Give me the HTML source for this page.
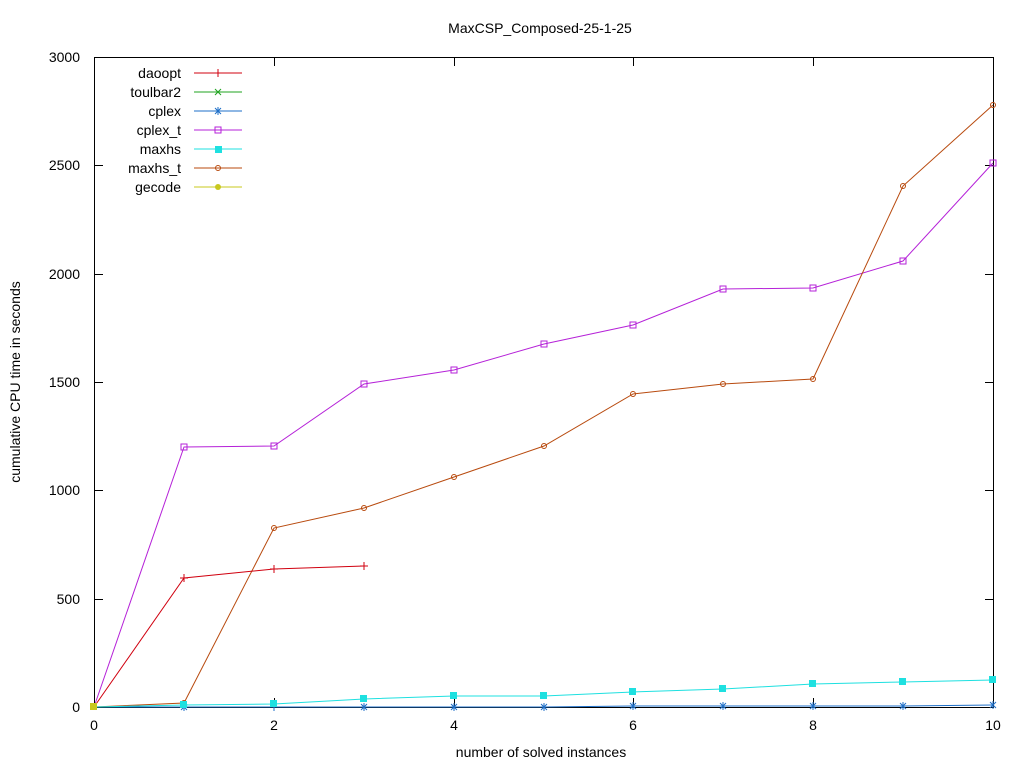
<!DOCTYPE html>
<html><head><style>body{margin:0;background:#fff}svg{display:block}text{font-family:"Liberation Sans",sans-serif;font-size:14px;fill:#000}</style></head>
<body>
<svg width="1024" height="768" xmlns="http://www.w3.org/2000/svg">
<rect width="1024" height="768" fill="#fff"/>
<text x="540" y="33" text-anchor="middle">MaxCSP_Composed-25-1-25</text>
<g stroke="#000" stroke-width="1">
<rect x="94.5" y="57.5" width="899" height="650" fill="none"/>
<path d="M94 707.5h9M994 707.5h-9M94 599.5h9M994 599.5h-9M94 490.5h9M994 490.5h-9M94 382.5h9M994 382.5h-9M94 274.5h9M994 274.5h-9M94 165.5h9M994 165.5h-9M94 57.5h9M994 57.5h-9"/>
<path d="M94.5 707v-9M94.5 57v9M274.5 707v-9M274.5 57v9M454.5 707v-9M454.5 57v9M633.5 707v-9M633.5 57v9M813.5 707v-9M813.5 57v9M993.5 707v-9M993.5 57v9"/>
</g>
<g text-anchor="end">
<text x="80" y="712">0</text><text x="80" y="604">500</text><text x="80" y="495">1000</text><text x="80" y="387">1500</text><text x="80" y="279">2000</text><text x="80" y="170">2500</text><text x="80" y="62">3000</text>
</g>
<g text-anchor="middle">
<text x="94" y="730">0</text><text x="274" y="730">2</text><text x="454" y="730">4</text><text x="633" y="730">6</text><text x="813" y="730">8</text><text x="993" y="730">10</text>
<text x="541" y="757">number of solved instances</text>
<text transform="translate(20,382) rotate(-90)">cumulative CPU time in seconds</text>
</g>
<g text-anchor="end">
<text x="181" y="78">daoopt</text><text x="181" y="97">toulbar2</text><text x="181" y="116">cplex</text><text x="181" y="135">cplex_t</text><text x="181" y="154">maxhs</text><text x="181" y="173">maxhs_t</text><text x="181" y="192">gecode</text>
</g>
<g fill="none" stroke-width="1">
<path d="M194 73h48M218 69v8" stroke="#d0000f"/>
<path d="M194 92h48M215 89l6 6M221 89l-6 6" stroke="#1fa31f"/>
<path d="M194 111h48M215 108l6 6M221 108l-6 6M218 107v8" stroke="#1e6fc8"/>
<path d="M194 130h48" stroke="#b521d8"/><rect x="215" y="127" width="6" height="6" stroke="#b521d8"/>
<path d="M194 149h48" stroke="#1ee0e0"/><rect x="215" y="146" width="7" height="7" fill="#1ee0e0"/>
<path d="M194 168h48" stroke="#b84a0e"/><circle cx="218" cy="168" r="2.5" stroke="#b84a0e"/>
<path d="M194 187h48" stroke="#c8c81e"/><circle cx="218" cy="187" r="3" fill="#c8c81e"/>
</g>
<g fill="none">
<polyline stroke="#b521d8" points="94,707 184,447 274,446 364,384 454,370 544,344 633,325 723,289 813,288 903,261 993,163"/>
<g stroke="#b521d8"><rect x="181" y="444" width="6" height="6"/><rect x="271" y="443" width="6" height="6"/><rect x="361" y="381" width="6" height="6"/><rect x="451" y="367" width="6" height="6"/><rect x="541" y="341" width="6" height="6"/><rect x="630" y="322" width="6" height="6"/><rect x="720" y="286" width="6" height="6"/><rect x="810" y="285" width="6" height="6"/><rect x="900" y="258" width="6" height="6"/><rect x="990" y="160" width="6" height="6"/></g>
<polyline stroke="#b84a0e" points="94,707 184,703 274,528 364,508 454,477 544,446 633,394 723,384 813,379 903,186 993,105"/>
<g stroke="#b84a0e"><circle cx="184" cy="703" r="2.5"/><circle cx="274" cy="528" r="2.5"/><circle cx="364" cy="508" r="2.5"/><circle cx="454" cy="477" r="2.5"/><circle cx="544" cy="446" r="2.5"/><circle cx="633" cy="394" r="2.5"/><circle cx="723" cy="384" r="2.5"/><circle cx="813" cy="379" r="2.5"/><circle cx="903" cy="186" r="2.5"/><circle cx="993" cy="105" r="2.5"/></g>
<polyline stroke="#d0000f" points="94,707 184,578 274,569 364,566"/>
<path stroke="#d0000f" d="M180 578h8M184 574v8M270 569h8M274 565v8M360 566h8M364 562v8"/>
<polyline stroke="#1e6fc8" points="94,707 184,707 274,707 364,707 454,707 544,707 633,706 723,706 813,706 903,706 993,705"/>
<path stroke="#1e6fc8" d="M184 703v8M274 703v8M364 703v8M454 703v8M544 703v8M633 702v8M723 702v8M813 702v8M903 702v8M993 701v8M181 704l6 6M187 704l-6 6M361 704l6 6M367 704l-6 6M451 704l6 6M457 704l-6 6M541 704l6 6M547 704l-6 6M630 703l6 6M636 703l-6 6M720 703l6 6M726 703l-6 6M810 703l6 6M816 703l-6 6M900 703l6 6M906 703l-6 6M990 702l6 6M996 702l-6 6"/>
<polyline stroke="#1ee0e0" points="94,707 184,705 274,704 364,699 454,696 544,696 633,692 723,689 813,684 903,682 993,680"/>
</g>
<g fill="#1ee0e0"><rect x="180" y="701" width="7" height="7"/><rect x="270" y="700" width="7" height="7"/><rect x="360" y="695" width="7" height="7"/><rect x="450" y="692" width="7" height="7"/><rect x="540" y="692" width="7" height="7"/><rect x="629" y="688" width="7" height="7"/><rect x="719" y="685" width="7" height="7"/><rect x="809" y="680" width="7" height="7"/><rect x="899" y="678" width="7" height="7"/><rect x="989" y="676" width="7" height="7"/></g>
<rect x="90" y="703" width="7" height="7" fill="#c8c81e"/>
</svg>
</body></html>
